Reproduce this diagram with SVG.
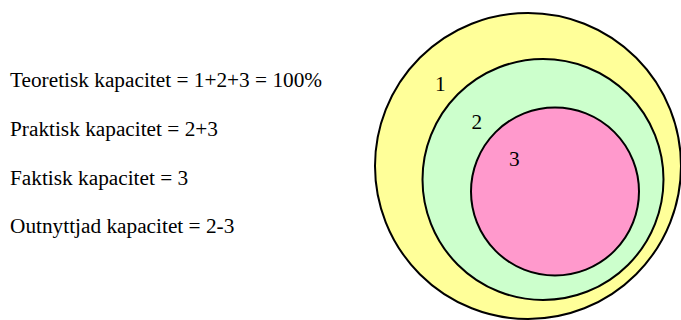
<svg xmlns="http://www.w3.org/2000/svg" width="681" height="320" viewBox="0 0 681 320">
<style>
.c{stroke:#000;stroke-width:2}
</style>
<rect width="681" height="320" fill="#fff"/>
<g font-family="Liberation Serif, serif" font-size="21.3" fill="#000">
<g id="outer"><circle class="c" cx="528" cy="166" r="153" fill="#ffff99"/><text x="435" y="91">1</text></g>
<g id="middle"><circle class="c" cx="543" cy="179.5" r="120.5" fill="#ccffcc"/><text x="471.5" y="128.5">2</text></g>
<g id="inner"><circle class="c" cx="555" cy="191.5" r="84" fill="#ff99cc"/><text x="509" y="166">3</text></g>
<g id="legend">
<text x="10" y="87.3">Teoretisk kapacitet = 1+2+3 = 100%</text>
<text x="10" y="136">Praktisk kapacitet = 2+3</text>
<text x="10" y="185">Faktisk kapacitet = 3</text>
<text x="10" y="233">Outnyttjad kapacitet = 2-3</text>
</g>
</g>
</svg>
